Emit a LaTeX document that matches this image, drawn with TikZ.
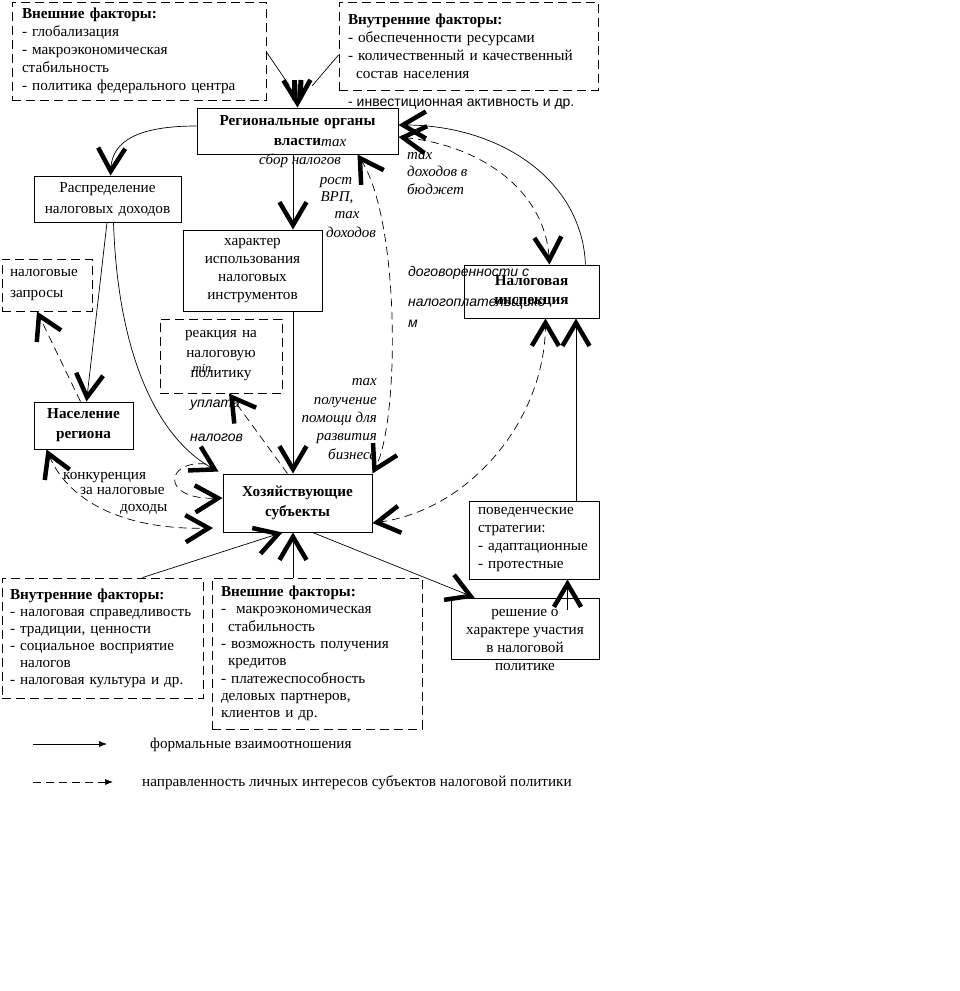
\documentclass[tikz,border=0pt]{standalone}
\usepackage{fontspec}
\setmainfont{Liberation Serif}
\newfontfamily\lsans{Liberation Sans}
\usetikzlibrary{arrows.meta}
\newcommand\fsz[2]{\fontsize{#1}{#2}\selectfont}
\begin{document}
\begin{tikzpicture}[x=1pt,y=-1pt,
  >={Straight Barb[length=23pt,width=27pt,line width=4.5pt]},
  box/.style={draw, line width=0.9pt, inner sep=0pt, font=\fsz{15.2}{18}},
  dbox/.style={box, dash pattern=on 9pt off 5pt},
  thinl/.style={line width=0.7pt},
  dline/.style={line width=0.7pt, dash pattern=on 8pt off 5pt},
  thickbar/.style={line width=5pt},
  lbl/.style={font=\fsz{15}{18}\itshape, inner sep=0pt},
  slbl/.style={font=\lsans\fsz{14}{16}\itshape, inner sep=0pt},
  txt/.style={font=\fsz{15.2}{18}, inner sep=0pt},
  legtip/.style={-{Latex[length=8pt,width=6pt]}}
]
\path[fill=white] (0,0) rectangle (960,991);
\useasboundingbox (0,0) rectangle (960,991);

% ---------- boxes ----------
\node[dbox, text width=234pt, inner xsep=10pt, minimum height=98pt, align=left] (ext1) at (139,51)
 {\textbf{Внешние факторы:}\\- глобализация\\- макроэкономическая\\стабильность\\- политика федерального центра};
\node[dbox, text width=241pt, inner xsep=9pt, minimum height=88pt, align=left] (int1) at (468.5,46)
 {\textbf{Внутренние факторы:}\\- обеспеченности ресурсами\\- количественный и качественный\\\hspace*{8pt}состав населения};
\node[box, text width=201pt, minimum height=46pt, align=center, font=\fsz{15.2}{20}\bfseries] (reg) at (297.5,131)
 {Региональные органы\\власти};
\node[box, text width=147pt, minimum height=46pt, align=center, font=\fsz{15.2}{21}] (raspr) at (107.5,199)
 {Распределение\\налоговых доходов};
\node[box, text width=139pt, minimum height=81pt, align=center] (har) at (252.5,270.5)
 {характер\\использования\\налоговых\\инструментов};
\node[dbox, text width=74pt, inner xsep=8pt, minimum height=52pt, align=left, font=\fsz{15.2}{21}] (zapr) at (47,285)
 {налоговые\\запросы};
\node[dbox, text width=122pt, minimum height=74pt, align=center, font=\fsz{15.2}{20}] (reak) at (221,356)
 {реакция на\\налоговую\\политику};
\node[box, text width=99pt, minimum height=47pt, align=center, font=\fsz{15.2}{20}\bfseries] (nas) at (83.5,425.5)
 {Население\\региона};
\node[box, text width=149pt, minimum height=58pt, align=center, font=\fsz{15.2}{20}\bfseries] (hoz) at (297.5,503)
 {Хозяйствующие\\субъекты};
\node[box, text width=135pt, minimum height=53pt, align=center, font=\fsz{15.2}{19}\bfseries] (insp) at (531.5,291.5)
 {Налоговая\\инспекция};
\node[box, text width=112pt, inner xsep=9pt, minimum height=78pt, align=left] (pov) at (534,540)
 {поведенческие\\стратегии:\\- адаптационные\\- протестные};
\node[box, minimum width=148pt, minimum height=61pt] (resh) at (525,628.5) {};
\node[txt, align=center] (reshtxt) at (525,640) {решение о\\характере участия\\в налоговой\\политике};
\node[dbox, text width=185pt, inner xsep=8pt, minimum height=120pt, align=left, font=\fsz{15.2}{17}] (vnutr2) at (102.5,638)
 {\textbf{Внутренние факторы:}\\- налоговая справедливость\\- традиции, ценности\\- социальное восприятие\\\hspace*{10pt}налогов\\- налоговая культура и др.};
\node[dbox, text width=192pt, inner xsep=9pt, minimum height=151pt, align=left, font=\fsz{15.2}{17.3}] (vnesh2) at (317,653.5)
 {\textbf{Внешние факторы:}\\- \ макроэкономическая\\\hspace*{7pt}стабильность\\- возможность получения\\\hspace*{7pt}кредитов\\- платежеспособность\\деловых партнеров,\\клиентов и др.};

% ---------- free texts ----------
\node[font=\lsans\fsz{14}{16}, inner sep=0pt, anchor=base west] (invest) at (348,106) {- инвестиционная активность и др.};
\node[lbl, anchor=base west] (lmaxa) at (321,146) {max};
\node[lbl, anchor=base] (lsbor) at (300,164) {сбор налогов};
\node[lbl, anchor=base] (lrost) at (336,184) {рост};
\node[lbl, anchor=base] (lvrp) at (337,201) {ВРП,};
\node[lbl, anchor=base] (lmaxb) at (347,218) {max};
\node[lbl, anchor=base] (ldoh) at (351,237) {доходов};
\node[lbl, anchor=base west] (lmaxc) at (407,159) {max};
\node[lbl, anchor=base west] (ldohb) at (407,176) {доходов в};
\node[lbl, anchor=base west] (lbud) at (407,194) {бюджет};
\node[slbl, anchor=base west] (ldog) at (408,276) {договоренности с};
\node[slbl, anchor=base west] (lnal) at (408,306) {налогоплательщико};
\node[slbl, anchor=base west] (lm) at (408,327) {м};
\node[lbl, anchor=base east] (lmaxd) at (377,385) {max};
\node[lbl, anchor=base east] (lpol) at (377,404) {получение};
\node[lbl, anchor=base east] (lpom) at (377,422) {помощи для};
\node[lbl, anchor=base east] (lraz) at (377,440) {развития};
\node[lbl, anchor=base east] (lbiz) at (377,459) {бизнеса};
\node[lbl, anchor=base, font=\fsz{12.5}{14}\itshape] (lmin) at (202,372) {min};
\node[slbl, anchor=base west] (lupl) at (190,407) {уплата};
\node[slbl, anchor=base west] (lnalg) at (190,441) {налогов};
\node[txt, anchor=base west] (lkon1) at (63,479) {конкуренция};
\node[txt, anchor=base west] (lkon2) at (80,494) {за налоговые};
\node[txt, anchor=base west] (lkon3) at (120,511) {доходы};

% ---------- top converging lines ----------
\coordinate (j1) at (289,85);
\coordinate (j2) at (312,86);
\coordinate (j3) at (297,84);
\coordinate (b1a) at (294,80); \coordinate (b1b) at (294,100);
\coordinate (b2a) at (301,80); \coordinate (b2b) at (300,98);
\draw[thinl] ([yshift=-1pt]ext1.east) -- (j1);
\draw[thinl] ([yshift=-9pt]int1.west) -- (j2);
\draw[thickbar] (b1a) -- (b1b);
\draw[thickbar] (b2a) -- (b2b);
\draw[thinl,->] (j3) -- (reg.north);

% ---------- solid connectors ----------
\draw[thinl,->] ([yshift=5pt]reg.west) .. controls (140,126) and (112,140) .. ([xshift=3pt]raspr.north);
\draw[thinl,->] ([xshift=-4.5pt]reg.south) -- ([xshift=-4.5pt]reg.south |- har.north);
\draw[thinl,->] ([xshift=40.5pt]har.south) -- ([xshift=40.5pt]har.south |- hoz.north);
\draw[thinl,->] ([xshift=-0.5pt]raspr.south) -- ([xshift=3pt]nas.north);
\draw[thinl,->] ([xshift=6pt]raspr.south) .. controls (118,360) and (160,440) .. ([xshift=-4pt,yshift=2pt]hoz.north west);
\draw[thinl,->] ([xshift=-14pt]insp.north east) .. controls (582,180) and (500,125) .. ([yshift=6pt]reg.east);
\draw[thinl,->] ([xshift=42pt]pov.north) -- ([xshift=42pt]pov.north |- insp.south);
\draw[thinl,->] ([xshift=42.5pt,yshift=-12pt]resh.north) -- ([xshift=42.5pt]resh.north |- pov.south);
\draw[thinl,->] ([xshift=15pt]hoz.south) -- ([xshift=24pt]resh.north west);
\draw[thinl,->] ([xshift=40pt]vnutr2.north) -- ([xshift=-15pt]hoz.south);
\draw[thinl,->] ([xshift=-24pt]vnesh2.north) -- ([xshift=-24pt]vnesh2.north |- hoz.south);

% ---------- dashed connectors ----------
\coordinate (pend) at (213,528);
\coordinate (loopst) at (206,464);
\draw[dline,->] ([xshift=-3pt]nas.north) -- ([xshift=-10pt]zapr.south);
\draw[dline,->] ([xshift=-10pt]hoz.north) -- ([xshift=8pt]reak.south);
\draw[dline,<->] ([xshift=60pt]reg.south) .. controls (400,220) and (400,420) .. (hoz.north east);
\draw[dline,<->] ([yshift=-6pt]reg.east) .. controls (480,145) and (545,190) .. ([xshift=18pt]insp.north);
\draw[dline,<->] ([yshift=-20pt]hoz.east) .. controls (470,510) and (545,420) .. ([xshift=14pt]insp.south);
\draw[dline,<->] ([xshift=-37pt]nas.south) .. controls (70,505) and (130,530) .. (pend);
\draw[dline,->] (loopst) .. controls (165,460) and (160,500) .. ([yshift=5pt]hoz.west);

% ---------- legend ----------
\coordinate (l1a) at (33,744); \coordinate (l1b) at (107,744);
\coordinate (l2a) at (33,782); \coordinate (l2b) at (113,782);
\draw[thinl,legtip] (l1a) -- (l1b);
\draw[dline,legtip] (l2a) -- (l2b);
\node[txt, anchor=base west] (leg1) at (150,748) {формальные взаимоотношения};
\node[txt, anchor=base west] (leg2) at (142,786) {направленность личных интересов субъектов налоговой политики};
\end{tikzpicture}
\end{document}
